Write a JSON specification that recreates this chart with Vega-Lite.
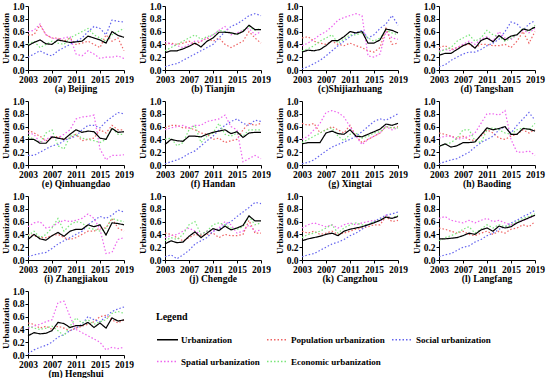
{
"$schema":"https://vega.github.io/schema/vega-lite/v6.json",
"padding":{"left":1,"top":1,"right":2,"bottom":0},
"background":"white",
"data":{"values":[
{"c":"(a) Beijing","y":2003,"u":0.38,"p":0.55,"so":0.20,"sp":0.60,"e":0.40},
{"c":"(a) Beijing","y":2004,"u":0.43,"p":0.55,"so":0.25,"sp":0.62,"e":0.45},
{"c":"(a) Beijing","y":2005,"u":0.47,"p":0.70,"so":0.30,"sp":0.72,"e":0.35},
{"c":"(a) Beijing","y":2006,"u":0.41,"p":0.55,"so":0.25,"sp":0.55,"e":0.40},
{"c":"(a) Beijing","y":2007,"u":0.40,"p":0.50,"so":0.22,"sp":0.50,"e":0.45},
{"c":"(a) Beijing","y":2008,"u":0.47,"p":0.50,"so":0.30,"sp":0.48,"e":0.42},
{"c":"(a) Beijing","y":2009,"u":0.45,"p":0.45,"so":0.35,"sp":0.50,"e":0.40},
{"c":"(a) Beijing","y":2010,"u":0.43,"p":0.50,"so":0.40,"sp":0.52,"e":0.50},
{"c":"(a) Beijing","y":2011,"u":0.44,"p":0.40,"so":0.45,"sp":0.25,"e":0.55},
{"c":"(a) Beijing","y":2012,"u":0.45,"p":0.42,"so":0.50,"sp":0.22,"e":0.60},
{"c":"(a) Beijing","y":2013,"u":0.53,"p":0.45,"so":0.60,"sp":0.30,"e":0.65},
{"c":"(a) Beijing","y":2014,"u":0.50,"p":0.40,"so":0.68,"sp":0.25,"e":0.55},
{"c":"(a) Beijing","y":2015,"u":0.47,"p":0.35,"so":0.65,"sp":0.18,"e":0.50},
{"c":"(a) Beijing","y":2016,"u":0.42,"p":0.55,"so":0.55,"sp":0.20,"e":0.45},
{"c":"(a) Beijing","y":2017,"u":0.60,"p":0.45,"so":0.78,"sp":0.20,"e":0.55},
{"c":"(a) Beijing","y":2018,"u":0.54,"p":0.50,"so":0.76,"sp":0.22,"e":0.60},
{"c":"(a) Beijing","y":2019,"u":0.51,"p":0.30,"so":0.75,"sp":0.18,"e":0.65},
{"c":"(b) Tianjin","y":2003,"u":0.27,"p":0.40,"so":0.05,"sp":0.45,"e":0.30},
{"c":"(b) Tianjin","y":2004,"u":0.30,"p":0.42,"so":0.08,"sp":0.40,"e":0.35},
{"c":"(b) Tianjin","y":2005,"u":0.30,"p":0.40,"so":0.10,"sp":0.38,"e":0.40},
{"c":"(b) Tianjin","y":2006,"u":0.33,"p":0.42,"so":0.15,"sp":0.35,"e":0.45},
{"c":"(b) Tianjin","y":2007,"u":0.37,"p":0.45,"so":0.20,"sp":0.40,"e":0.50},
{"c":"(b) Tianjin","y":2008,"u":0.42,"p":0.40,"so":0.25,"sp":0.45,"e":0.55},
{"c":"(b) Tianjin","y":2009,"u":0.36,"p":0.45,"so":0.30,"sp":0.45,"e":0.48},
{"c":"(b) Tianjin","y":2010,"u":0.45,"p":0.50,"so":0.35,"sp":0.50,"e":0.52},
{"c":"(b) Tianjin","y":2011,"u":0.50,"p":0.45,"so":0.40,"sp":0.55,"e":0.55},
{"c":"(b) Tianjin","y":2012,"u":0.59,"p":0.50,"so":0.50,"sp":0.62,"e":0.62},
{"c":"(b) Tianjin","y":2013,"u":0.59,"p":0.40,"so":0.60,"sp":0.68,"e":0.60},
{"c":"(b) Tianjin","y":2014,"u":0.58,"p":0.35,"so":0.68,"sp":0.55,"e":0.58},
{"c":"(b) Tianjin","y":2015,"u":0.56,"p":0.40,"so":0.72,"sp":0.58,"e":0.55},
{"c":"(b) Tianjin","y":2016,"u":0.60,"p":0.45,"so":0.78,"sp":0.62,"e":0.62},
{"c":"(b) Tianjin","y":2017,"u":0.70,"p":0.60,"so":0.85,"sp":0.65,"e":0.68},
{"c":"(b) Tianjin","y":2018,"u":0.63,"p":0.50,"so":0.88,"sp":0.55,"e":0.62},
{"c":"(b) Tianjin","y":2019,"u":0.63,"p":0.42,"so":0.85,"sp":0.60,"e":0.65},
{"c":"(c)Shijiazhuang","y":2003,"u":0.28,"p":0.50,"so":0.02,"sp":0.38,"e":0.30},
{"c":"(c)Shijiazhuang","y":2004,"u":0.31,"p":0.52,"so":0.05,"sp":0.42,"e":0.33},
{"c":"(c)Shijiazhuang","y":2005,"u":0.30,"p":0.45,"so":0.10,"sp":0.48,"e":0.38},
{"c":"(c)Shijiazhuang","y":2006,"u":0.32,"p":0.42,"so":0.15,"sp":0.55,"e":0.45},
{"c":"(c)Shijiazhuang","y":2007,"u":0.38,"p":0.40,"so":0.22,"sp":0.60,"e":0.50},
{"c":"(c)Shijiazhuang","y":2008,"u":0.46,"p":0.45,"so":0.30,"sp":0.68,"e":0.55},
{"c":"(c)Shijiazhuang","y":2009,"u":0.46,"p":0.40,"so":0.38,"sp":0.78,"e":0.42},
{"c":"(c)Shijiazhuang","y":2010,"u":0.52,"p":0.38,"so":0.45,"sp":0.82,"e":0.48},
{"c":"(c)Shijiazhuang","y":2011,"u":0.60,"p":0.42,"so":0.52,"sp":0.85,"e":0.55},
{"c":"(c)Shijiazhuang","y":2012,"u":0.58,"p":0.38,"so":0.58,"sp":0.88,"e":0.55},
{"c":"(c)Shijiazhuang","y":2013,"u":0.60,"p":0.35,"so":0.62,"sp":0.85,"e":0.58},
{"c":"(c)Shijiazhuang","y":2014,"u":0.42,"p":0.30,"so":0.50,"sp":0.22,"e":0.50},
{"c":"(c)Shijiazhuang","y":2015,"u":0.42,"p":0.28,"so":0.55,"sp":0.20,"e":0.45},
{"c":"(c)Shijiazhuang","y":2016,"u":0.47,"p":0.35,"so":0.65,"sp":0.25,"e":0.50},
{"c":"(c)Shijiazhuang","y":2017,"u":0.64,"p":0.65,"so":0.72,"sp":0.60,"e":0.62},
{"c":"(c)Shijiazhuang","y":2018,"u":0.62,"p":0.40,"so":0.85,"sp":0.50,"e":0.58},
{"c":"(c)Shijiazhuang","y":2019,"u":0.58,"p":0.42,"so":0.70,"sp":0.48,"e":0.55},
{"c":"(d) Tangshan","y":2003,"u":0.23,"p":0.35,"so":0.05,"sp":0.30,"e":0.28},
{"c":"(d) Tangshan","y":2004,"u":0.26,"p":0.38,"so":0.08,"sp":0.32,"e":0.32},
{"c":"(d) Tangshan","y":2005,"u":0.26,"p":0.32,"so":0.15,"sp":0.30,"e":0.35},
{"c":"(d) Tangshan","y":2006,"u":0.32,"p":0.35,"so":0.20,"sp":0.35,"e":0.45},
{"c":"(d) Tangshan","y":2007,"u":0.38,"p":0.38,"so":0.25,"sp":0.40,"e":0.50},
{"c":"(d) Tangshan","y":2008,"u":0.42,"p":0.40,"so":0.28,"sp":0.45,"e":0.55},
{"c":"(d) Tangshan","y":2009,"u":0.34,"p":0.35,"so":0.28,"sp":0.40,"e":0.45},
{"c":"(d) Tangshan","y":2010,"u":0.46,"p":0.40,"so":0.32,"sp":0.48,"e":0.50},
{"c":"(d) Tangshan","y":2011,"u":0.50,"p":0.40,"so":0.38,"sp":0.52,"e":0.62},
{"c":"(d) Tangshan","y":2012,"u":0.44,"p":0.38,"so":0.42,"sp":0.45,"e":0.55},
{"c":"(d) Tangshan","y":2013,"u":0.54,"p":0.38,"so":0.48,"sp":0.60,"e":0.52},
{"c":"(d) Tangshan","y":2014,"u":0.47,"p":0.40,"so":0.60,"sp":0.50,"e":0.45},
{"c":"(d) Tangshan","y":2015,"u":0.53,"p":0.35,"so":0.75,"sp":0.48,"e":0.50},
{"c":"(d) Tangshan","y":2016,"u":0.55,"p":0.45,"so":0.72,"sp":0.55,"e":0.55},
{"c":"(d) Tangshan","y":2017,"u":0.64,"p":0.60,"so":0.62,"sp":0.62,"e":0.65},
{"c":"(d) Tangshan","y":2018,"u":0.62,"p":0.42,"so":0.72,"sp":0.58,"e":0.60},
{"c":"(d) Tangshan","y":2019,"u":0.67,"p":0.60,"so":0.77,"sp":0.65,"e":0.70},
{"c":"(e) Qinhuangdao","y":2003,"u":0.40,"p":0.55,"so":0.15,"sp":0.50,"e":0.45},
{"c":"(e) Qinhuangdao","y":2004,"u":0.40,"p":0.50,"so":0.15,"sp":0.48,"e":0.40},
{"c":"(e) Qinhuangdao","y":2005,"u":0.34,"p":0.45,"so":0.20,"sp":0.35,"e":0.35},
{"c":"(e) Qinhuangdao","y":2006,"u":0.34,"p":0.38,"so":0.25,"sp":0.40,"e":0.50},
{"c":"(e) Qinhuangdao","y":2007,"u":0.44,"p":0.42,"so":0.30,"sp":0.45,"e":0.55},
{"c":"(e) Qinhuangdao","y":2008,"u":0.42,"p":0.45,"so":0.32,"sp":0.42,"e":0.30},
{"c":"(e) Qinhuangdao","y":2009,"u":0.40,"p":0.40,"so":0.38,"sp":0.48,"e":0.25},
{"c":"(e) Qinhuangdao","y":2010,"u":0.48,"p":0.42,"so":0.42,"sp":0.55,"e":0.45},
{"c":"(e) Qinhuangdao","y":2011,"u":0.55,"p":0.48,"so":0.45,"sp":0.72,"e":0.48},
{"c":"(e) Qinhuangdao","y":2012,"u":0.51,"p":0.38,"so":0.55,"sp":0.75,"e":0.42},
{"c":"(e) Qinhuangdao","y":2013,"u":0.53,"p":0.40,"so":0.62,"sp":0.76,"e":0.40},
{"c":"(e) Qinhuangdao","y":2014,"u":0.52,"p":0.42,"so":0.62,"sp":0.78,"e":0.38},
{"c":"(e) Qinhuangdao","y":2015,"u":0.42,"p":0.55,"so":0.58,"sp":0.25,"e":0.35},
{"c":"(e) Qinhuangdao","y":2016,"u":0.40,"p":0.50,"so":0.68,"sp":0.08,"e":0.40},
{"c":"(e) Qinhuangdao","y":2017,"u":0.57,"p":0.62,"so":0.75,"sp":0.15,"e":0.58},
{"c":"(e) Qinhuangdao","y":2018,"u":0.51,"p":0.55,"so":0.82,"sp":0.15,"e":0.48},
{"c":"(e) Qinhuangdao","y":2019,"u":0.52,"p":0.55,"so":0.80,"sp":0.16,"e":0.48},
{"c":"(f) Handan","y":2003,"u":0.32,"p":0.58,"so":0.02,"sp":0.55,"e":0.40},
{"c":"(f) Handan","y":2004,"u":0.40,"p":0.62,"so":0.05,"sp":0.58,"e":0.42},
{"c":"(f) Handan","y":2005,"u":0.38,"p":0.62,"so":0.08,"sp":0.60,"e":0.30},
{"c":"(f) Handan","y":2006,"u":0.37,"p":0.58,"so":0.12,"sp":0.62,"e":0.35},
{"c":"(f) Handan","y":2007,"u":0.45,"p":0.58,"so":0.18,"sp":0.58,"e":0.55},
{"c":"(f) Handan","y":2008,"u":0.45,"p":0.55,"so":0.22,"sp":0.62,"e":0.62},
{"c":"(f) Handan","y":2009,"u":0.44,"p":0.50,"so":0.30,"sp":0.62,"e":0.35},
{"c":"(f) Handan","y":2010,"u":0.48,"p":0.48,"so":0.38,"sp":0.68,"e":0.45},
{"c":"(f) Handan","y":2011,"u":0.51,"p":0.40,"so":0.45,"sp":0.70,"e":0.50},
{"c":"(f) Handan","y":2012,"u":0.53,"p":0.42,"so":0.55,"sp":0.72,"e":0.65},
{"c":"(f) Handan","y":2013,"u":0.55,"p":0.35,"so":0.62,"sp":0.78,"e":0.48},
{"c":"(f) Handan","y":2014,"u":0.49,"p":0.38,"so":0.68,"sp":0.60,"e":0.45},
{"c":"(f) Handan","y":2015,"u":0.52,"p":0.40,"so":0.72,"sp":0.55,"e":0.50},
{"c":"(f) Handan","y":2016,"u":0.43,"p":0.55,"so":0.65,"sp":0.05,"e":0.45},
{"c":"(f) Handan","y":2017,"u":0.50,"p":0.65,"so":0.62,"sp":0.10,"e":0.55},
{"c":"(f) Handan","y":2018,"u":0.51,"p":0.62,"so":0.70,"sp":0.15,"e":0.55},
{"c":"(f) Handan","y":2019,"u":0.51,"p":0.65,"so":0.68,"sp":0.10,"e":0.55},
{"c":"(g) Xingtai","y":2003,"u":0.33,"p":0.65,"so":0.02,"sp":0.40,"e":0.35},
{"c":"(g) Xingtai","y":2004,"u":0.35,"p":0.62,"so":0.04,"sp":0.45,"e":0.40},
{"c":"(g) Xingtai","y":2005,"u":0.35,"p":0.65,"so":0.08,"sp":0.55,"e":0.45},
{"c":"(g) Xingtai","y":2006,"u":0.35,"p":0.50,"so":0.15,"sp":0.65,"e":0.50},
{"c":"(g) Xingtai","y":2007,"u":0.50,"p":0.55,"so":0.22,"sp":0.82,"e":0.55},
{"c":"(g) Xingtai","y":2008,"u":0.53,"p":0.60,"so":0.28,"sp":0.85,"e":0.58},
{"c":"(g) Xingtai","y":2009,"u":0.49,"p":0.55,"so":0.32,"sp":0.82,"e":0.45},
{"c":"(g) Xingtai","y":2010,"u":0.48,"p":0.50,"so":0.36,"sp":0.75,"e":0.38},
{"c":"(g) Xingtai","y":2011,"u":0.55,"p":0.62,"so":0.40,"sp":0.60,"e":0.48},
{"c":"(g) Xingtai","y":2012,"u":0.45,"p":0.45,"so":0.45,"sp":0.45,"e":0.50},
{"c":"(g) Xingtai","y":2013,"u":0.44,"p":0.35,"so":0.52,"sp":0.32,"e":0.42},
{"c":"(g) Xingtai","y":2014,"u":0.48,"p":0.40,"so":0.60,"sp":0.40,"e":0.45},
{"c":"(g) Xingtai","y":2015,"u":0.52,"p":0.45,"so":0.68,"sp":0.45,"e":0.50},
{"c":"(g) Xingtai","y":2016,"u":0.56,"p":0.50,"so":0.72,"sp":0.50,"e":0.52},
{"c":"(g) Xingtai","y":2017,"u":0.64,"p":0.60,"so":0.70,"sp":0.60,"e":0.60},
{"c":"(g) Xingtai","y":2018,"u":0.62,"p":0.58,"so":0.75,"sp":0.55,"e":0.58},
{"c":"(g) Xingtai","y":2019,"u":0.65,"p":0.60,"so":0.80,"sp":0.58,"e":0.58},
{"c":"(h) Baoding","y":2003,"u":0.29,"p":0.50,"so":0.02,"sp":0.42,"e":0.30},
{"c":"(h) Baoding","y":2004,"u":0.33,"p":0.48,"so":0.05,"sp":0.45,"e":0.32},
{"c":"(h) Baoding","y":2005,"u":0.28,"p":0.45,"so":0.08,"sp":0.45,"e":0.35},
{"c":"(h) Baoding","y":2006,"u":0.30,"p":0.42,"so":0.10,"sp":0.40,"e":0.42},
{"c":"(h) Baoding","y":2007,"u":0.35,"p":0.45,"so":0.15,"sp":0.42,"e":0.55},
{"c":"(h) Baoding","y":2008,"u":0.35,"p":0.40,"so":0.20,"sp":0.45,"e":0.55},
{"c":"(h) Baoding","y":2009,"u":0.36,"p":0.38,"so":0.28,"sp":0.50,"e":0.38},
{"c":"(h) Baoding","y":2010,"u":0.47,"p":0.45,"so":0.35,"sp":0.65,"e":0.35},
{"c":"(h) Baoding","y":2011,"u":0.58,"p":0.55,"so":0.40,"sp":0.80,"e":0.55},
{"c":"(h) Baoding","y":2012,"u":0.55,"p":0.50,"so":0.45,"sp":0.80,"e":0.58},
{"c":"(h) Baoding","y":2013,"u":0.57,"p":0.42,"so":0.55,"sp":0.78,"e":0.55},
{"c":"(h) Baoding","y":2014,"u":0.60,"p":0.40,"so":0.60,"sp":0.85,"e":0.50},
{"c":"(h) Baoding","y":2015,"u":0.48,"p":0.45,"so":0.50,"sp":0.40,"e":0.48},
{"c":"(h) Baoding","y":2016,"u":0.48,"p":0.48,"so":0.62,"sp":0.20,"e":0.55},
{"c":"(h) Baoding","y":2017,"u":0.57,"p":0.55,"so":0.72,"sp":0.20,"e":0.58},
{"c":"(h) Baoding","y":2018,"u":0.56,"p":0.50,"so":0.82,"sp":0.22,"e":0.55},
{"c":"(h) Baoding","y":2019,"u":0.53,"p":0.55,"so":0.70,"sp":0.15,"e":0.65},
{"c":"(i) Zhangjiakou","y":2003,"u":0.32,"p":0.40,"so":0.05,"sp":0.52,"e":0.38},
{"c":"(i) Zhangjiakou","y":2004,"u":0.40,"p":0.38,"so":0.08,"sp":0.58,"e":0.45},
{"c":"(i) Zhangjiakou","y":2005,"u":0.33,"p":0.35,"so":0.10,"sp":0.60,"e":0.35},
{"c":"(i) Zhangjiakou","y":2006,"u":0.31,"p":0.35,"so":0.12,"sp":0.50,"e":0.40},
{"c":"(i) Zhangjiakou","y":2007,"u":0.38,"p":0.38,"so":0.18,"sp":0.52,"e":0.50},
{"c":"(i) Zhangjiakou","y":2008,"u":0.43,"p":0.40,"so":0.25,"sp":0.58,"e":0.65},
{"c":"(i) Zhangjiakou","y":2009,"u":0.37,"p":0.35,"so":0.30,"sp":0.62,"e":0.45},
{"c":"(i) Zhangjiakou","y":2010,"u":0.45,"p":0.32,"so":0.35,"sp":0.60,"e":0.55},
{"c":"(i) Zhangjiakou","y":2011,"u":0.48,"p":0.35,"so":0.40,"sp":0.62,"e":0.60},
{"c":"(i) Zhangjiakou","y":2012,"u":0.48,"p":0.40,"so":0.45,"sp":0.65,"e":0.58},
{"c":"(i) Zhangjiakou","y":2013,"u":0.55,"p":0.45,"so":0.55,"sp":0.72,"e":0.50},
{"c":"(i) Zhangjiakou","y":2014,"u":0.52,"p":0.45,"so":0.62,"sp":0.65,"e":0.48},
{"c":"(i) Zhangjiakou","y":2015,"u":0.55,"p":0.50,"so":0.68,"sp":0.48,"e":0.45},
{"c":"(i) Zhangjiakou","y":2016,"u":0.39,"p":0.50,"so":0.65,"sp":0.10,"e":0.50},
{"c":"(i) Zhangjiakou","y":2017,"u":0.58,"p":0.65,"so":0.70,"sp":0.12,"e":0.65},
{"c":"(i) Zhangjiakou","y":2018,"u":0.57,"p":0.50,"so":0.78,"sp":0.32,"e":0.62},
{"c":"(i) Zhangjiakou","y":2019,"u":0.55,"p":0.45,"so":0.75,"sp":0.35,"e":0.60},
{"c":"(j) Chengde","y":2003,"u":0.25,"p":0.42,"so":0.05,"sp":0.35,"e":0.30},
{"c":"(j) Chengde","y":2004,"u":0.30,"p":0.40,"so":0.08,"sp":0.38,"e":0.35},
{"c":"(j) Chengde","y":2005,"u":0.27,"p":0.35,"so":0.02,"sp":0.40,"e":0.32},
{"c":"(j) Chengde","y":2006,"u":0.28,"p":0.30,"so":0.08,"sp":0.45,"e":0.40},
{"c":"(j) Chengde","y":2007,"u":0.37,"p":0.35,"so":0.15,"sp":0.50,"e":0.55},
{"c":"(j) Chengde","y":2008,"u":0.44,"p":0.40,"so":0.25,"sp":0.45,"e":0.60},
{"c":"(j) Chengde","y":2009,"u":0.35,"p":0.38,"so":0.30,"sp":0.40,"e":0.40},
{"c":"(j) Chengde","y":2010,"u":0.42,"p":0.40,"so":0.35,"sp":0.45,"e":0.45},
{"c":"(j) Chengde","y":2011,"u":0.49,"p":0.42,"so":0.45,"sp":0.45,"e":0.55},
{"c":"(j) Chengde","y":2012,"u":0.46,"p":0.35,"so":0.48,"sp":0.50,"e":0.58},
{"c":"(j) Chengde","y":2013,"u":0.53,"p":0.40,"so":0.55,"sp":0.60,"e":0.55},
{"c":"(j) Chengde","y":2014,"u":0.47,"p":0.38,"so":0.60,"sp":0.55,"e":0.50},
{"c":"(j) Chengde","y":2015,"u":0.50,"p":0.38,"so":0.68,"sp":0.42,"e":0.48},
{"c":"(j) Chengde","y":2016,"u":0.54,"p":0.40,"so":0.75,"sp":0.45,"e":0.52},
{"c":"(j) Chengde","y":2017,"u":0.69,"p":0.62,"so":0.82,"sp":0.55,"e":0.68},
{"c":"(j) Chengde","y":2018,"u":0.61,"p":0.42,"so":0.90,"sp":0.45,"e":0.55},
{"c":"(j) Chengde","y":2019,"u":0.61,"p":0.42,"so":0.88,"sp":0.47,"e":0.58},
{"c":"(k) Cangzhou","y":2003,"u":0.30,"p":0.45,"so":0.05,"sp":0.50,"e":0.35},
{"c":"(k) Cangzhou","y":2004,"u":0.33,"p":0.42,"so":0.08,"sp":0.55,"e":0.40},
{"c":"(k) Cangzhou","y":2005,"u":0.35,"p":0.45,"so":0.10,"sp":0.58,"e":0.42},
{"c":"(k) Cangzhou","y":2006,"u":0.37,"p":0.40,"so":0.15,"sp":0.55,"e":0.45},
{"c":"(k) Cangzhou","y":2007,"u":0.40,"p":0.42,"so":0.20,"sp":0.52,"e":0.50},
{"c":"(k) Cangzhou","y":2008,"u":0.42,"p":0.45,"so":0.25,"sp":0.55,"e":0.55},
{"c":"(k) Cangzhou","y":2009,"u":0.38,"p":0.40,"so":0.28,"sp":0.50,"e":0.42},
{"c":"(k) Cangzhou","y":2010,"u":0.45,"p":0.42,"so":0.32,"sp":0.55,"e":0.50},
{"c":"(k) Cangzhou","y":2011,"u":0.48,"p":0.45,"so":0.38,"sp":0.58,"e":0.55},
{"c":"(k) Cangzhou","y":2012,"u":0.50,"p":0.48,"so":0.42,"sp":0.55,"e":0.58},
{"c":"(k) Cangzhou","y":2013,"u":0.52,"p":0.50,"so":0.48,"sp":0.58,"e":0.55},
{"c":"(k) Cangzhou","y":2014,"u":0.55,"p":0.52,"so":0.55,"sp":0.60,"e":0.55},
{"c":"(k) Cangzhou","y":2015,"u":0.58,"p":0.55,"so":0.60,"sp":0.62,"e":0.60},
{"c":"(k) Cangzhou","y":2016,"u":0.62,"p":0.55,"so":0.65,"sp":0.60,"e":0.62},
{"c":"(k) Cangzhou","y":2017,"u":0.67,"p":0.68,"so":0.70,"sp":0.70,"e":0.68},
{"c":"(k) Cangzhou","y":2018,"u":0.65,"p":0.60,"so":0.72,"sp":0.65,"e":0.65},
{"c":"(k) Cangzhou","y":2019,"u":0.68,"p":0.62,"so":0.75,"sp":0.68,"e":0.70},
{"c":"(l) Langfang","y":2003,"u":0.33,"p":0.50,"so":0.05,"sp":0.65,"e":0.30},
{"c":"(l) Langfang","y":2004,"u":0.33,"p":0.48,"so":0.08,"sp":0.68,"e":0.35},
{"c":"(l) Langfang","y":2005,"u":0.34,"p":0.45,"so":0.10,"sp":0.62,"e":0.38},
{"c":"(l) Langfang","y":2006,"u":0.35,"p":0.42,"so":0.15,"sp":0.60,"e":0.42},
{"c":"(l) Langfang","y":2007,"u":0.38,"p":0.45,"so":0.20,"sp":0.58,"e":0.48},
{"c":"(l) Langfang","y":2008,"u":0.42,"p":0.40,"so":0.22,"sp":0.62,"e":0.52},
{"c":"(l) Langfang","y":2009,"u":0.40,"p":0.38,"so":0.28,"sp":0.58,"e":0.42},
{"c":"(l) Langfang","y":2010,"u":0.47,"p":0.42,"so":0.32,"sp":0.62,"e":0.48},
{"c":"(l) Langfang","y":2011,"u":0.50,"p":0.45,"so":0.38,"sp":0.65,"e":0.55},
{"c":"(l) Langfang","y":2012,"u":0.45,"p":0.40,"so":0.42,"sp":0.60,"e":0.50},
{"c":"(l) Langfang","y":2013,"u":0.53,"p":0.45,"so":0.48,"sp":0.62,"e":0.55},
{"c":"(l) Langfang","y":2014,"u":0.50,"p":0.42,"so":0.52,"sp":0.58,"e":0.52},
{"c":"(l) Langfang","y":2015,"u":0.52,"p":0.48,"so":0.58,"sp":0.55,"e":0.55},
{"c":"(l) Langfang","y":2016,"u":0.58,"p":0.50,"so":0.62,"sp":0.58,"e":0.60},
{"c":"(l) Langfang","y":2017,"u":0.62,"p":0.55,"so":0.68,"sp":0.62,"e":0.65},
{"c":"(l) Langfang","y":2018,"u":0.66,"p":0.52,"so":0.72,"sp":0.65,"e":0.68},
{"c":"(l) Langfang","y":2019,"u":0.70,"p":0.60,"so":0.78,"sp":0.70,"e":0.72},
{"c":"(m) Hengshui","y":2003,"u":0.30,"p":0.50,"so":0.02,"sp":0.42,"e":0.45},
{"c":"(m) Hengshui","y":2004,"u":0.35,"p":0.48,"so":0.08,"sp":0.45,"e":0.42},
{"c":"(m) Hengshui","y":2005,"u":0.33,"p":0.42,"so":0.12,"sp":0.48,"e":0.40},
{"c":"(m) Hengshui","y":2006,"u":0.34,"p":0.45,"so":0.15,"sp":0.52,"e":0.42},
{"c":"(m) Hengshui","y":2007,"u":0.38,"p":0.40,"so":0.20,"sp":0.55,"e":0.45},
{"c":"(m) Hengshui","y":2008,"u":0.51,"p":0.45,"so":0.28,"sp":0.82,"e":0.38},
{"c":"(m) Hengshui","y":2009,"u":0.49,"p":0.42,"so":0.32,"sp":0.84,"e":0.30},
{"c":"(m) Hengshui","y":2010,"u":0.43,"p":0.38,"so":0.38,"sp":0.60,"e":0.45},
{"c":"(m) Hengshui","y":2011,"u":0.46,"p":0.42,"so":0.42,"sp":0.40,"e":0.58},
{"c":"(m) Hengshui","y":2012,"u":0.46,"p":0.45,"so":0.48,"sp":0.35,"e":0.50},
{"c":"(m) Hengshui","y":2013,"u":0.51,"p":0.48,"so":0.60,"sp":0.30,"e":0.55},
{"c":"(m) Hengshui","y":2014,"u":0.43,"p":0.52,"so":0.55,"sp":0.25,"e":0.48},
{"c":"(m) Hengshui","y":2015,"u":0.50,"p":0.60,"so":0.52,"sp":0.20,"e":0.52},
{"c":"(m) Hengshui","y":2016,"u":0.42,"p":0.62,"so":0.60,"sp":0.08,"e":0.55},
{"c":"(m) Hengshui","y":2017,"u":0.58,"p":0.55,"so":0.68,"sp":0.12,"e":0.65},
{"c":"(m) Hengshui","y":2018,"u":0.53,"p":0.50,"so":0.72,"sp":0.10,"e":0.68},
{"c":"(m) Hengshui","y":2019,"u":0.55,"p":0.55,"so":0.75,"sp":0.12,"e":0.65}
]},
"transform":[{"fold":["p","so","sp","e","u"],"as":["s","v"]}],
"facet":{"field":"c","type":"nominal","header":{"title":null,"labelOrient":"bottom"}},
"columns":4,
"spacing":{"column":4,"row":3},
"resolve":{"axis":{"x":"independent","y":"independent"}},
"spec":{
  "width":96,"height":64,
  "mark":{"type":"line","strokeWidth":1.2},
  "encoding":{
    "x":{"field":"y","type":"quantitative","scale":{"domain":[2003,2019],"nice":false},"axis":{"values":[2003,2007,2011,2015,2019],"format":"d","title":null,"labelOverlap":false,"labelFlush":false}},
    "y":{"field":"v","type":"quantitative","scale":{"domain":[0,1],"nice":false},"axis":{"values":[0,0.2,0.4,0.6,0.8,1],"format":".1f","title":"Urbanization","labelFlush":false}},
    "color":{"field":"s","type":"nominal","scale":{"domain":["u","p","so","sp","e"],"range":["#000000","#ee6464","#6464ee","#ee64ee","#7ae67a"]},
      "legend":{"title":"Legend","orient":"none","legendX":128,"legendY":306,"direction":"horizontal","columns":3,
        "labelExpr":"datum.label=='u'?'Urbanization':datum.label=='p'?'Population urbanization':datum.label=='so'?'Social urbanization':datum.label=='sp'?'Spatial urbanization':'Economic urbanization'"}},
    "strokeDash":{"field":"s","type":"nominal","scale":{"domain":["u","p","so","sp","e"],"range":[[1,0],[1.5,2],[1.5,2],[1.5,2],[1.5,2]]},
      "legend":{"title":"Legend","orient":"none","legendX":128,"legendY":306,"direction":"horizontal","columns":3,
        "labelExpr":"datum.label=='u'?'Urbanization':datum.label=='p'?'Population urbanization':datum.label=='so'?'Social urbanization':datum.label=='sp'?'Spatial urbanization':'Economic urbanization'"}}
  }
},
"config":{
  "font":"Liberation Serif",
  "view":{"stroke":null},
  "axis":{"domainColor":"#000","tickColor":"#000","grid":false,"labelFont":"Liberation Serif","labelFontSize":9.5,"labelFontWeight":"bold","labelColor":"#000","labelPadding":1,"tickSize":3,"titleFont":"Liberation Serif","titleFontSize":9,"titleFontWeight":"bold","titleColor":"#000","titlePadding":2},
  "header":{"labelFont":"Liberation Serif","labelFontSize":9.5,"labelFontWeight":"bold","labelColor":"#000","labelPadding":0},
  "legend":{"titleFont":"Liberation Serif","titleFontSize":10,"titleFontWeight":"bold","titleColor":"#000","titlePadding":6,"labelFont":"Liberation Serif","labelFontSize":9,"labelFontWeight":"bold","labelColor":"#000","symbolType":"stroke","symbolSize":441,"symbolStrokeWidth":1.4,"rowPadding":5,"columnPadding":4,"gridAlign":"each","labelOffset":2}
}
}
